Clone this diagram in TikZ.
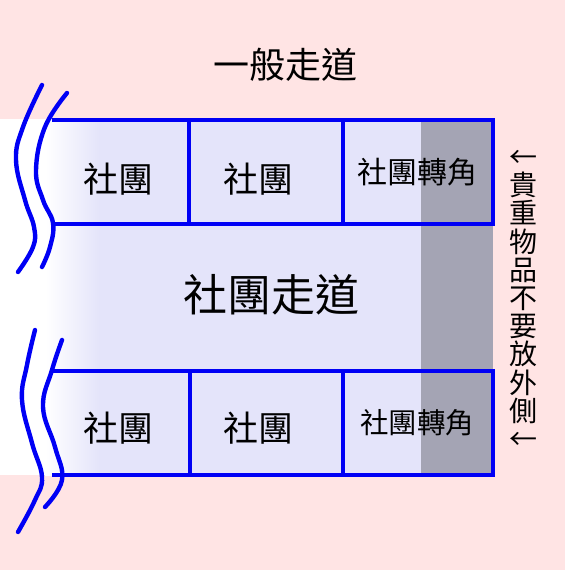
\documentclass[tikz,border=0pt]{standalone}
\usepackage{fontspec}
\setmainfont{Noto Sans CJK TC}
\definecolor{bgpink}{RGB}{255,228,228}
\definecolor{lav}{RGB}{228,228,250}
\definecolor{greycol}{RGB}{164,164,180}
\definecolor{lineblue}{RGB}{0,0,245}
\tikzset{
  boxline/.style={draw=lineblue, line width=3.2pt},
  wave/.style={draw=lineblue, line width=4.4pt, line cap=round},
  lbl/.style={inner sep=0pt, text=black},
}
\begin{document}
\begin{tikzpicture}[x=1pt,y=-1pt]
\useasboundingbox (0,0) rectangle (565,570);
\fill[bgpink] (0,0) rectangle (565,570);
% band
\fill[white] (0,119) rectangle (46,475);
\shade[left color=white, right color=lav] (45,119) rectangle (100,475);
\fill[lav] (99,119) rectangle (421,475);
\fill[greycol] (421,119) rectangle (493,475);
% boxes row 1
\draw[boxline] (52,120) -- (493,120) -- (493,224) -- (53,224);
\draw[boxline] (189,120) -- (189,224);
\draw[boxline] (343,120) -- (343,224);
% boxes row 2
\draw[boxline] (52,371) -- (493,371) -- (493,475) -- (52,475);
\draw[boxline] (190,371) -- (190,475);
\draw[boxline] (343,371) -- (343,475);
% wavy lines
\draw[wave] plot[smooth, tension=0.7] coordinates {(42,85) (23,127) (16,160) (25,200) (34,227) (33,247) (18,272)};
\draw[wave] plot[smooth, tension=0.7] coordinates {(67,93) (45,127) (36,170) (43,200) (53,223) (50,247) (42,267)};
\draw[wave] plot[smooth, tension=0.7] coordinates {(35,330) (27,365) (22,400) (32,443) (42,477) (35,500) (18,532)};
\draw[wave] plot[smooth, tension=0.7] coordinates {(62,340) (52,370) (43,407) (55,447) (62,480) (45,507)};
% texts
\node[lbl, font=\fontsize{36}{38}\selectfont] (general) at (285,65) {一般走道};
\node[lbl, font=\fontsize{44}{46}\selectfont] (corridor) at (271,295) {社團走道};
\node[lbl, font=\fontsize{35}{37}\selectfont] (c1) at (118,179) {社團};
\node[lbl, font=\fontsize{35}{37}\selectfont] (c2) at (258,179) {社團};
\node[lbl, font=\fontsize{35}{37}\selectfont] (c3) at (118,428) {社團};
\node[lbl, font=\fontsize{35}{37}\selectfont] (c4) at (258,428) {社團};
\node[lbl, font=\fontsize{30}{32}\selectfont] (k1) at (417,172) {社團轉角};
\node[lbl, font=\fontsize{28.5}{30}\selectfont] (k2) at (417,423) {社團轉角};
\node[lbl, align=center, font=\fontsize{28}{28.2}\selectfont] (note) at (523,300) {←\\貴\\重\\物\\品\\不\\要\\放\\外\\側\\←};
\end{tikzpicture}
\end{document}
